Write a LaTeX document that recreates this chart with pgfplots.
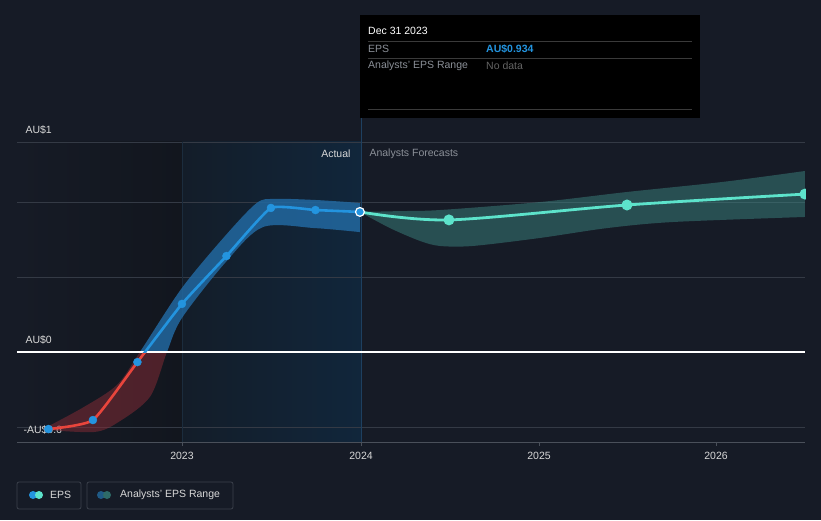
\documentclass[border=0pt]{standalone}
\usepackage{pgfplots}
\pgfplotsset{compat=1.18}
\usepgfplotslibrary{fillbetween}
\usepackage{fontspec}
\setmainfont{Liberation Sans}

\definecolor{bgc}{HTML}{161B26}
\definecolor{leftdark}{HTML}{12161E}
\definecolor{act1}{HTML}{131D29}
\definecolor{act2}{HTML}{11263B}
\definecolor{gridc}{HTML}{343A45}
\definecolor{axisc}{HTML}{4A505A}
\definecolor{epsblue}{HTML}{2394DF}
\definecolor{epsred}{HTML}{E8453C}
\definecolor{fcteal}{HTML}{5DE3CB}
\definecolor{bandblue}{HTML}{2268A0}
\definecolor{bandred}{HTML}{8A2C36}
\definecolor{bandteal}{HTML}{3E8A85}
\definecolor{legc}{HTML}{3B414B}
\definecolor{txtc}{HTML}{D8D8D8}
\definecolor{greyc}{HTML}{8B9098}
\definecolor{vline1}{HTML}{1B2C3D}
\definecolor{vline2}{HTML}{1E4060}
\definecolor{tipline}{HTML}{3A3A3A}
\definecolor{nodata}{HTML}{646464}
\definecolor{legblue}{HTML}{1F5A86}
\definecolor{legteal}{HTML}{2E6B68}

\begin{document}
\begin{tikzpicture}[font=\fontsize{10.5}{12}\selectfont]
\begin{axis}[
  at={(0,0)}, anchor=south west,
  scale only axis, width=821pt, height=520pt,
  xmin=2021.978, xmax=2026.590, ymin=-0.8, ymax=1.6762,
  hide axis, clip=false, set layers
]
% ---- background, grid and labels (canvas pt, measured from the top left)
\pgfplotsextra{%
\begin{pgfonlayer}{axis background}
\begin{scope}[shift={(rel axis cs:0,1)}]
  \fill[bgc] (0pt,0pt) rectangle (821pt,-520pt);
  \shade[left color=bgc, right color=leftdark] (17pt,-142pt) rectangle (182pt,-442pt);
  \shade[left color=act1, right color=act2] (182pt,-142pt) rectangle (361pt,-442pt);
  \draw[gridc, line width=0.9pt] (17pt,-142pt) -- (805pt,-142pt);
  \draw[gridc, line width=0.9pt] (17pt,-202pt) -- (805pt,-202pt);
  \draw[gridc, line width=0.9pt] (17pt,-277pt) -- (805pt,-277pt);
  \draw[gridc, line width=0.9pt] (17pt,-427pt) -- (805pt,-427pt);
  \draw[axisc, line width=0.9pt] (17pt,-442pt) -- (805pt,-442pt);
  \draw[axisc, line width=0.9pt] (182pt,-442pt) -- (182pt,-446pt);
  \draw[axisc, line width=0.9pt] (361pt,-442pt) -- (361pt,-446pt);
  \draw[axisc, line width=0.9pt] (539pt,-442pt) -- (539pt,-446pt);
  \draw[axisc, line width=0.9pt] (716pt,-442pt) -- (716pt,-446pt);
  \draw[vline1, line width=0.8pt] (182pt,-142pt) -- (182pt,-442pt);
  \draw[vline2, line width=0.9pt] (361pt,-15pt) -- (361pt,-442pt);
  \node[txtc, anchor=west] at (22pt,-130pt) {AU\$1};
  \node[txtc, anchor=west] at (22pt,-340pt) {AU\$0};
  \node[txtc, anchor=west] at (20pt,-430pt) {-AU\$0.6};
  \node[txtc] at (182pt,-456pt) {2023};
  \node[txtc] at (361pt,-456pt) {2024};
  \node[txtc] at (539pt,-456pt) {2025};
  \node[txtc] at (716pt,-456pt) {2026};
  \node[txtc, anchor=east] at (354pt,-154pt) {Actual};
  \node[greyc, anchor=west] at (366pt,-154pt) {Analysts Forecasts};
\end{scope}
\end{pgfonlayer}}

% actual EPS range (band)
\addplot[name path=aup, draw=none, smooth, tension=0.5, forget plot] coordinates {
  (2022.242,-0.357) (2022.449,-0.262) (2022.635,-0.157) (2022.764,0)
  (2023,0.305) (2023.247,0.557) (2023.421,0.710) (2023.522,0.729)
  (2023.747,0.724) (2024,0.710)
};
\addplot[name path=alo, draw=none, smooth, tension=0.5, forget plot] coordinates {
  (2022.242,-0.371) (2022.506,-0.381) (2022.635,-0.338) (2022.820,-0.214)
  (2022.916,0) (2023,0.162) (2023.247,0.429) (2023.455,0.595)
  (2023.747,0.590) (2024,0.571)
};
\addplot[fill=bandblue, fill opacity=0.85, draw=none]
  fill between[of=aup and alo, soft clip={domain y=0:1.2}];
\addplot[fill=bandred, fill opacity=0.5, draw=none]
  fill between[of=aup and alo, soft clip={domain y=-0.6:0}];

% forecast range
\addplot[name path=fup, draw=none, smooth, tension=0.5, forget plot] coordinates {
  (2024,0.667) (2024.225,0.671) (2024.449,0.676) (2025.011,0.714)
  (2025.5,0.762) (2026.039,0.810) (2026.5,0.862)
};
\addplot[name path=flo, draw=none, smooth, tension=0.5, forget plot] coordinates {
  (2024,0.667) (2024.169,0.590) (2024.337,0.529) (2024.449,0.505)
  (2024.635,0.505) (2025.011,0.543) (2025.388,0.590) (2025.758,0.619)
  (2026.5,0.643)
};
\addplot[fill=bandteal, fill opacity=0.47, draw=none] fill between[of=fup and flo];

% zero line
\draw[white, line width=1.1pt] (axis cs:2022.073,0) -- (axis cs:2026.5,0);

% EPS line, red below zero and blue above
\begin{scope}
  \clip (axis cs:2022,-0.6) rectangle (axis cs:2024.1,0);
  \addplot[epsred, line width=2.6pt, smooth, tension=0.3] coordinates {
    (2022.25,-0.367) (2022.5,-0.324) (2022.75,-0.048) (2023,0.229)
    (2023.25,0.457) (2023.5,0.686) (2023.75,0.676) (2024,0.667)
  };
\end{scope}
\begin{scope}
  \clip (axis cs:2022,0) rectangle (axis cs:2024.1,1.2);
  \addplot[epsblue, line width=2.6pt, smooth, tension=0.25] coordinates {
    (2022.25,-0.367) (2022.5,-0.324) (2022.75,-0.048) (2023,0.229)
    (2023.25,0.457) (2023.5,0.686) (2023.75,0.676) (2024,0.667)
  };
\end{scope}
\addplot[only marks, mark=*, mark size=4pt, color=epsblue] coordinates {
  (2022.25,-0.367) (2022.5,-0.324) (2022.75,-0.048) (2023,0.229)
  (2023.25,0.457) (2023.5,0.686) (2023.75,0.676)
};

% forecast EPS
\addplot[fcteal, line width=2.8pt, smooth, tension=0.5,
  mark=*, mark size=4pt, mark indices={2,3,4}] coordinates {
  (2024,0.667) (2024.5,0.629) (2025.5,0.700) (2026.5,0.752)
};
\addplot[only marks, mark=*, mark size=4.4pt,
  mark options={fill=epsblue, draw=white, line width=1.2pt}] coordinates {(2024,0.667)};
\end{axis}

% ---- tooltip, legend, right edge of the plot area
\begin{scope}[yshift=520pt, x=1pt, y=-1pt]
  \fill[bgc] (806,170) rectangle (821,225);
  \fill[black] (360,15) rectangle (700,118);
  \foreach \ly in {41,58,109}
    \draw[tipline, line width=0.8pt] (368,\ly) -- (692,\ly);
  \node[white, anchor=west, inner xsep=0pt] at (368,31) {Dec 31 2023};
  \node[greyc, anchor=west, inner xsep=0pt] at (368,49) {EPS};
  \node[epsblue, anchor=west, inner xsep=0pt, font=\fontsize{10.5}{12}\selectfont\bfseries] at (486,49) {AU\$0.934};
  \node[greyc, anchor=west, inner xsep=0pt] at (368,66) {Analysts' EPS Range};
  \node[nodata, anchor=west, inner xsep=0pt] at (486,66) {No data};

  \draw[legc, rounded corners=2pt, line width=0.8pt] (17,482) rectangle (81,509);
  \fill[epsblue] (33,495) circle (4);
  \fill[fcteal] (39,495) circle (4);
  \node[txtc, anchor=west, inner xsep=0pt] at (50,495) {EPS};
  \draw[legc, rounded corners=2pt, line width=0.8pt] (87,482) rectangle (233,509);
  \fill[legblue] (101,495) circle (4);
  \fill[legteal] (107,495) circle (4);
  \node[txtc, anchor=west, inner xsep=0pt] at (120,495) {Analysts' EPS Range};
\end{scope}
\end{tikzpicture}
\end{document}
